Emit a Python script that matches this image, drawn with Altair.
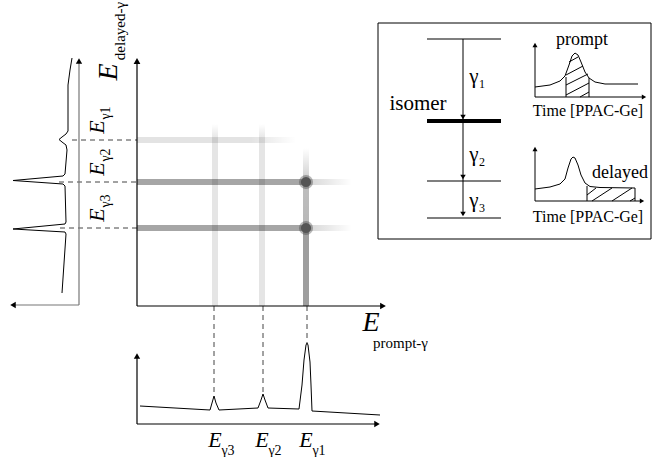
import altair as alt
import pandas as pd

W, H = 655, 457
FONT = "Liberation Serif, Times New Roman, Times, serif"

# ---------------- data ----------------
# positions of the three gamma lines E_g1, E_g2, E_g3
prompt_x = [306, 262, 215]      # on the prompt-gamma (horizontal) axis
delayed_y = [140, 182, 228]     # on the delayed-gamma (vertical) axis
gamma_sub = ["γ1", "γ2", "γ3"]

# left (delayed) projection spectrum, (x, y)
left_spec = [(72, 58), (70, 70), (68, 85), (68, 131), (66, 134), (62, 137), (59, 139.5),
             (62, 142), (66, 145), (67, 150), (65, 174), (63, 176), (13, 180.5), (63, 184),
             (65, 186), (66, 222), (65, 224), (13, 229), (65, 232), (66, 234), (62, 293)]
# bottom (prompt) projection spectrum, (x, y)
bottom_spec = [(140, 406), (210, 410), (212, 403), (214, 396), (216, 403), (219, 410),
               (258, 408), (261, 400), (263, 394), (265, 400), (268, 408), (299, 409),
               (302, 385), (304, 360), (306, 345), (307, 343), (308, 345), (310, 362),
               (311, 385), (312, 411), (380, 415)]
# inset time spectra
prompt_curve = [(535, 87), (550, 85), (560, 81), (565, 76), (569, 65), (572, 56), (575, 53),
                (578, 55), (581, 62), (585, 72), (589, 78), (595, 82), (605, 84), (638, 84)]
delayed_curve = [(535, 189), (550, 187), (560, 184), (565, 179), (568, 168), (571, 159),
                 (573, 157), (575, 158), (578, 165), (581, 175), (585, 183), (590, 186.5),
                 (600, 187.5), (635, 188), (635, 201)]
# hatch strokes (x, y, x2, y2)
hatch = [(580, 97, 589, 92), (566, 95, 589, 83), (566, 85, 588, 74), (566, 75, 583, 66),
         (569, 62, 578, 57),
         (587, 195, 596, 188), (592, 201, 612, 188), (612, 201, 632, 188), (630, 201, 635, 198)]

# level scheme
level_y = [39, 181, 218]
isomer_y = 121

# ---------------- helpers ----------------
XS = alt.Scale(domain=[0, W], nice=False, zero=False)
YS = alt.Scale(domain=[0, H], nice=False, zero=False, reverse=True)


def X(f="x"):
    return alt.X(f, type="quantitative", scale=XS, axis=None)


def Y(f="y"):
    return alt.Y(f, type="quantitative", scale=YS, axis=None)


def seg(rows, **kw):
    df = pd.DataFrame(rows, columns=["x", "y", "x2", "y2"])
    kw.setdefault("color", "black")
    kw.setdefault("strokeWidth", 1)
    return alt.Chart(df).mark_rule(**kw).encode(
        x=X(), y=Y(), x2=alt.X2("x2"), y2=alt.Y2("y2"))


def poly(points, **kw):
    df = pd.DataFrame(points, columns=["x", "y"])
    df["o"] = range(len(df))
    kw.setdefault("color", "black")
    kw.setdefault("strokeWidth", 1)
    return alt.Chart(df).mark_line(**kw).encode(x=X(), y=Y(), order="o:Q")


def heads(points, shape, size=40, color="black"):
    df = pd.DataFrame(points, columns=["x", "y"])
    return alt.Chart(df).mark_point(shape=shape, filled=True, color=color, size=size,
                                    opacity=1, strokeWidth=0).encode(x=X(), y=Y())


def txt(rows, size, italic=False, angle=0, align="center"):
    df = pd.DataFrame(rows, columns=["x", "y", "t"])
    kw = dict(font=FONT, fontSize=size, align=align, baseline="middle", color="black")
    if italic:
        kw["fontStyle"] = "italic"
    if angle:
        kw["angle"] = angle
    return alt.Chart(df).mark_text(**kw).encode(x=X(), y=Y(), text="t:N")


def grad(stops, horizontal=True):
    return alt.LinearGradient(
        gradient="linear",
        stops=[alt.GradientStop(offset=o, color=c) for o, c in stops],
        x1=0, x2=1 if horizontal else 0, y1=0, y2=0 if horizontal else 1)


def band(x0, x1, y0, y1, stops, horizontal=True):
    df = pd.DataFrame({"x": [x0], "x2": [x1], "y": [y0], "y2": [y1]})
    return alt.Chart(df).mark_rect(fill=grad(stops, horizontal), strokeWidth=0).encode(
        x=X(), y=Y(), x2=alt.X2("x2"), y2=alt.Y2("y2"))


def a(v):
    return f"rgba(0,0,0,{v})"


layers = []

# ---------------- coincidence bands ----------------
th = 3
# horizontal (delayed lines)
layers.append(band(137, 296, delayed_y[0] - th, delayed_y[0] + th,
                   [(0, a(0.11)), (0.72, a(0.11)), (1, a(0))]))
for yv in delayed_y[1:]:
    layers.append(band(137, 352, yv - th, yv + th,
                       [(0, a(0.35)), (0.76, a(0.35)), (0.82, a(0.14)), (0.9, a(0.08)), (1, a(0))]))
# vertical (prompt lines)
layers.append(band(prompt_x[0] - th, prompt_x[0] + th, 148, 306,
                   [(0, a(0)), (0.15, a(0.14)), (0.23, a(0.26)), (0.5, a(0.28)), (0.53, a(0.38)), (1, a(0.38))],
                   horizontal=False))
for xv in prompt_x[1:]:
    layers.append(band(xv - th, xv + th, 124, 306,
                       [(0, a(0)), (0.08, a(0.1)), (1, a(0.1))], horizontal=False))

# coincidence dots
dots = [(prompt_x[0], delayed_y[1]), (prompt_x[0], delayed_y[2])]
layers.append(alt.Chart(pd.DataFrame(dots, columns=["x", "y"])).mark_point(
    shape="circle", filled=True, color="#333", opacity=0.35, size=200, strokeWidth=0
).encode(x=X(), y=Y()))
layers.append(alt.Chart(pd.DataFrame(dots, columns=["x", "y"])).mark_point(
    shape="circle", filled=True, color="#555", opacity=1, size=105, strokeWidth=0
).encode(x=X(), y=Y()))

# ---------------- dashed projection lines ----------------
dash_h = [(72, delayed_y[0], 137, delayed_y[0]),
          (59, delayed_y[1], 137, delayed_y[1]),
          (60, delayed_y[2], 137, delayed_y[2])]
dash_v = [(prompt_x[2] - 1, 306, prompt_x[2] - 1, 392),
          (prompt_x[1] + 1, 306, prompt_x[1] + 1, 392),
          (prompt_x[0] + 1, 306, prompt_x[0] + 1, 343)]
layers.append(seg(dash_h, strokeDash=[5, 4], color="#444"))
layers.append(seg(dash_v, strokeDash=[5, 4], color="#444"))

# ---------------- main axes ----------------
layers.append(seg([(137, 306, 137, 62), (137, 306, 382, 306)], strokeWidth=1.2))
layers.append(heads([(137, 61)], "triangle-up", 45))
layers.append(heads([(383, 306)], "triangle-right", 45))

# ---------------- left spectrum ----------------
layers.append(seg([(79, 305, 79, 62), (79, 305, 14, 305)], color="#777", strokeWidth=1.2))
layers.append(heads([(79, 61)], "triangle-up", 40))
layers.append(heads([(13, 305)], "triangle-left", 40))
layers.append(poly(left_spec, strokeWidth=1))

# ---------------- bottom spectrum ----------------
layers.append(seg([(137, 424, 137, 357), (137, 424, 376, 424)], strokeWidth=1.2))
layers.append(heads([(137, 356)], "triangle-up", 40))
layers.append(heads([(377, 424)], "triangle-right", 40))
layers.append(poly(bottom_spec, strokeWidth=1))

# ---------------- axis labels ----------------
layers.append(txt([(109, 72, "E")], 28, italic=True, angle=270))
layers.append(txt([(120, 31, "delayed-γ")], 15, angle=270))
layers.append(txt([(371, 323, "E")], 28, italic=True))
layers.append(txt([(373, 343, "prompt-γ")], 15, align="left"))

# gamma labels on the left (rotated)
layers.append(txt([(97, yv - 13, "E") for yv in delayed_y], 22, italic=True, angle=270))
layers.append(txt([(106, yv - 27, s) for yv, s in zip(delayed_y, gamma_sub)], 14, angle=270))
# gamma labels at the bottom
layers.append(txt([(xv, 440, "E") for xv in prompt_x], 22, italic=True))
layers.append(txt([(xv + 13, 451, s) for xv, s in zip(prompt_x, gamma_sub)], 14))

# ---------------- inset ----------------
frame = pd.DataFrame({"x": [378], "x2": [651], "y": [23], "y2": [239]})
layers.append(alt.Chart(frame).mark_rect(fill="white", fillOpacity=0, stroke="black",
                                         strokeWidth=1).encode(
    x=X(), y=Y(), x2=alt.X2("x2"), y2=alt.Y2("y2")))

layers.append(seg([(427, yv, 501, yv) for yv in level_y], strokeWidth=1.2))
layers.append(seg([(427, isomer_y, 501, isomer_y)], strokeWidth=4))
layers.append(seg([(463, level_y[0], 463, level_y[2] - 3)], strokeWidth=1))
layers.append(heads([(463, isomer_y - 4), (463, level_y[1] - 4), (463, level_y[2] - 4)],
                    "triangle-down", 30))
layers.append(txt([(418, 104, "isomer")], 21))
layers.append(txt([(474, 77, "γ"), (474, 155, "γ"), (474, 201, "γ")], 21))
layers.append(txt([(482, 84, "1"), (482, 162, "2"), (482, 208, "3")], 12))

# time spectra mini plots
layers.append(seg([(535, 97, 535, 46), (535, 97, 643, 97),
                   (535, 201, 535, 150), (535, 201, 641, 201)]))
layers.append(heads([(535, 45), (535, 149)], "triangle-up", 25))
layers.append(heads([(644, 97), (642, 201)], "triangle-right", 25))
layers.append(poly(prompt_curve))
layers.append(poly(delayed_curve))
layers.append(seg([(566, 97, 566, 77), (589, 97, 589, 78), (587, 201, 587, 186)]))
layers.append(seg(hatch))
layers.append(txt([(582, 40, "prompt"), (620, 173, "delayed")], 18))
layers.append(txt([(588, 111, "Time [PPAC-Ge]"), (588, 217, "Time [PPAC-Ge]")], 16))

chart = alt.layer(*layers).properties(
    width=W, height=H, padding=0, autosize="none"
).configure_view(stroke=None)

chart.save("out.html", embed_options={"renderer": "svg", "actions": False})
